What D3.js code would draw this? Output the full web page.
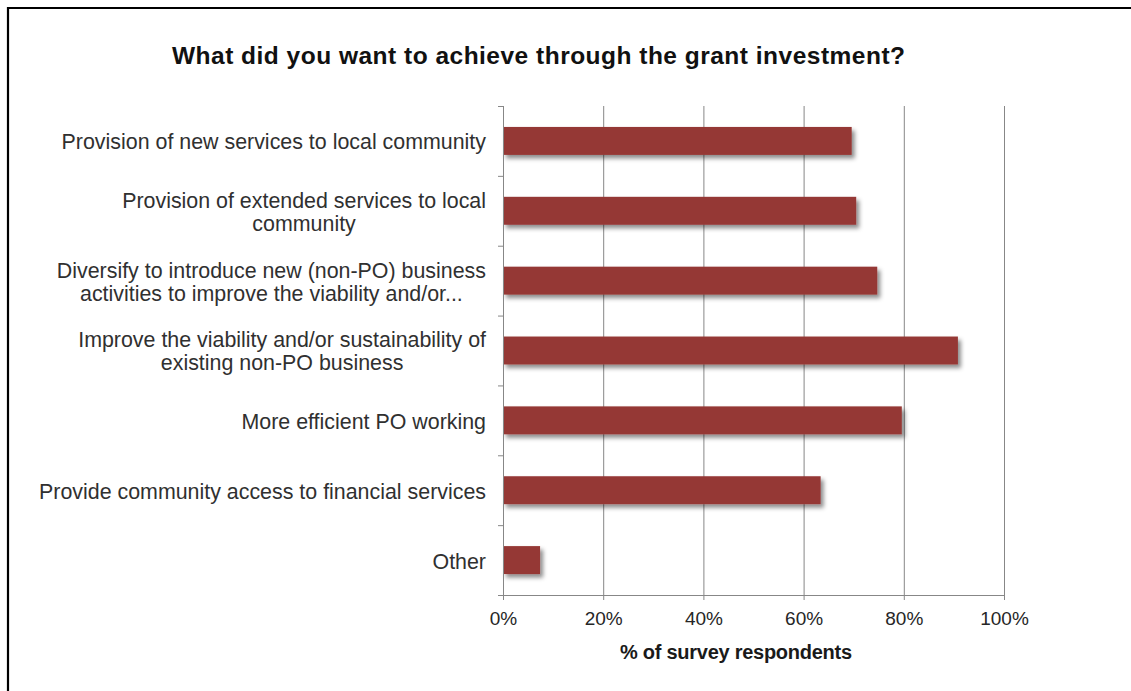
<!DOCTYPE html>
<html>
<head>
<meta charset="utf-8">
<script src="https://cdn.jsdelivr.net/npm/d3@7"></script>
<style>
  html, body { margin: 0; padding: 0; background: #fff; }
  svg { display: block; }
  text { font-family: "Liberation Sans", Arial, sans-serif; }
</style>
</head>
<body>
<svg id="chart" width="1131" height="691"></svg>
<script>
// Survey answers: one entry per bar, label split into display lines
const categories = [
  ["Provision of new services to local community"],
  ["Provision of extended services to local", "community"],
  ["Diversify to introduce new (non-PO) business", "activities to improve the viability and/or..."],
  ["Improve the viability and/or sustainability of", "existing non-PO business"],
  ["More efficient PO working"],
  ["Provide community access to financial services"],
  ["Other"]
];
const values = [69.6, 70.5, 74.7, 90.8, 79.6, 63.4, 7.4];
const xTicks = [0, 20, 40, 60, 80, 100];
const titleText = "What did you want to achieve through the grant investment?";
const xAxisTitle = "% of survey respondents";

(function draw() {
  const svg = d3.select("#chart");
  const W = 1131, H = 691;

  // plot area
  const plotL = 503, plotR = 1004, plotT = 106, plotB = 595;

  // drop shadow for bars
  const defs = svg.append("defs");
  const f = defs.append("filter").attr("id", "shadow")
    .attr("x", "-10%").attr("y", "-50%").attr("width", "130%").attr("height", "220%");
  f.append("feDropShadow").attr("dx", 3).attr("dy", 3.5).attr("stdDeviation", 2.2)
    .attr("flood-color", "#000").attr("flood-opacity", 0.45);

  svg.append("rect").attr("width", W).attr("height", H).attr("fill", "#fff");

  // frame lines (top and left)
  svg.append("path").attr("d", `M8,${H} L8,8 L${W},8`)
    .attr("fill", "none").attr("stroke", "#000").attr("stroke-width", 2.2);

  const x = d3.scaleLinear().domain([0, 100]).range([plotL, plotR]);
  const y = d3.scaleBand().domain(d3.range(categories.length)).range([plotT, plotB])
    .paddingInner(0.6).paddingOuter(0.3);
  const yEdges = d3.scaleLinear().domain([0, categories.length]).range([plotT, plotB]);

  // vertical gridlines
  svg.append("g")
    .attr("transform", `translate(0,${plotB})`)
    .call(d3.axisBottom(x).tickValues(xTicks.slice(1)).tickSize(-(plotB - plotT)).tickFormat(""))
    .call(g => g.select(".domain").remove())
    .call(g => g.selectAll("line").attr("stroke", "#878787").attr("stroke-width", 1));

  // bars
  svg.append("g").selectAll("rect")
    .data(values)
    .join("rect")
    .attr("x", x(0))
    .attr("y", (d, i) => y(i))
    .attr("width", d => x(d) - x(0))
    .attr("height", y.bandwidth())
    .attr("fill", "#953735")
    .attr("filter", "url(#shadow)");

  // x axis
  svg.append("g")
    .attr("transform", `translate(0,${plotB})`)
    .call(d3.axisBottom(x).tickValues(xTicks).tickSize(5).tickPadding(12).tickFormat(d => d + "%"))
    .call(g => g.select(".domain").attr("stroke", "#878787").attr("d", `M${plotL},0.5H${plotR}`))
    .call(g => g.selectAll("line").attr("stroke", "#878787"))
    .call(g => g.selectAll("text")
      .attr("fill", "#262626")
      .style("font-family", "'Liberation Sans', Arial, sans-serif")
      .style("font-size", "19px"));

  // y axis with ticks at category boundaries
  svg.append("g")
    .attr("transform", `translate(${plotL},0)`)
    .call(d3.axisLeft(yEdges).tickValues(d3.range(categories.length + 1)).tickSize(5).tickFormat(""))
    .call(g => g.select(".domain").attr("stroke", "#878787").attr("d", `M0.5,${plotT}V${plotB}`))
    .call(g => g.selectAll("line").attr("stroke", "#878787"));

  // category labels: block right-aligned, lines centred on each other
  const lineH = 23;
  const labelRight = 486;
  const lab = svg.append("g").attr("font-size", 21.4).attr("fill", "#303030");
  categories.forEach((lines, i) => {
    const cy = y(i) + y.bandwidth() / 2 + 1;
    const g = lab.append("g");
    const texts = lines.map((s, k) => g.append("text")
      .attr("y", cy + (k - (lines.length - 1) / 2) * lineH)
      .attr("dy", "0.35em")
      .text(s));
    const widths = texts.map(t => t.node().getComputedTextLength());
    const wMax = d3.max(widths);
    texts.forEach(t => t.attr("x", labelRight - wMax / 2).attr("text-anchor", "middle"));
  });

  // chart title
  svg.append("text")
    .attr("x", 172).attr("y", 64)
    .attr("font-size", 24.5).attr("font-weight", "bold").attr("fill", "#111")
    .attr("textLength", 733).attr("lengthAdjust", "spacing")
    .text(titleText);

  // x axis title
  svg.append("text")
    .attr("x", 620).attr("y", 659)
    .attr("font-size", 20).attr("font-weight", "bold").attr("fill", "#1a1a1a")
    .attr("textLength", 232).attr("lengthAdjust", "spacing")
    .text(xAxisTitle);
})();
</script>
</body>
</html>
